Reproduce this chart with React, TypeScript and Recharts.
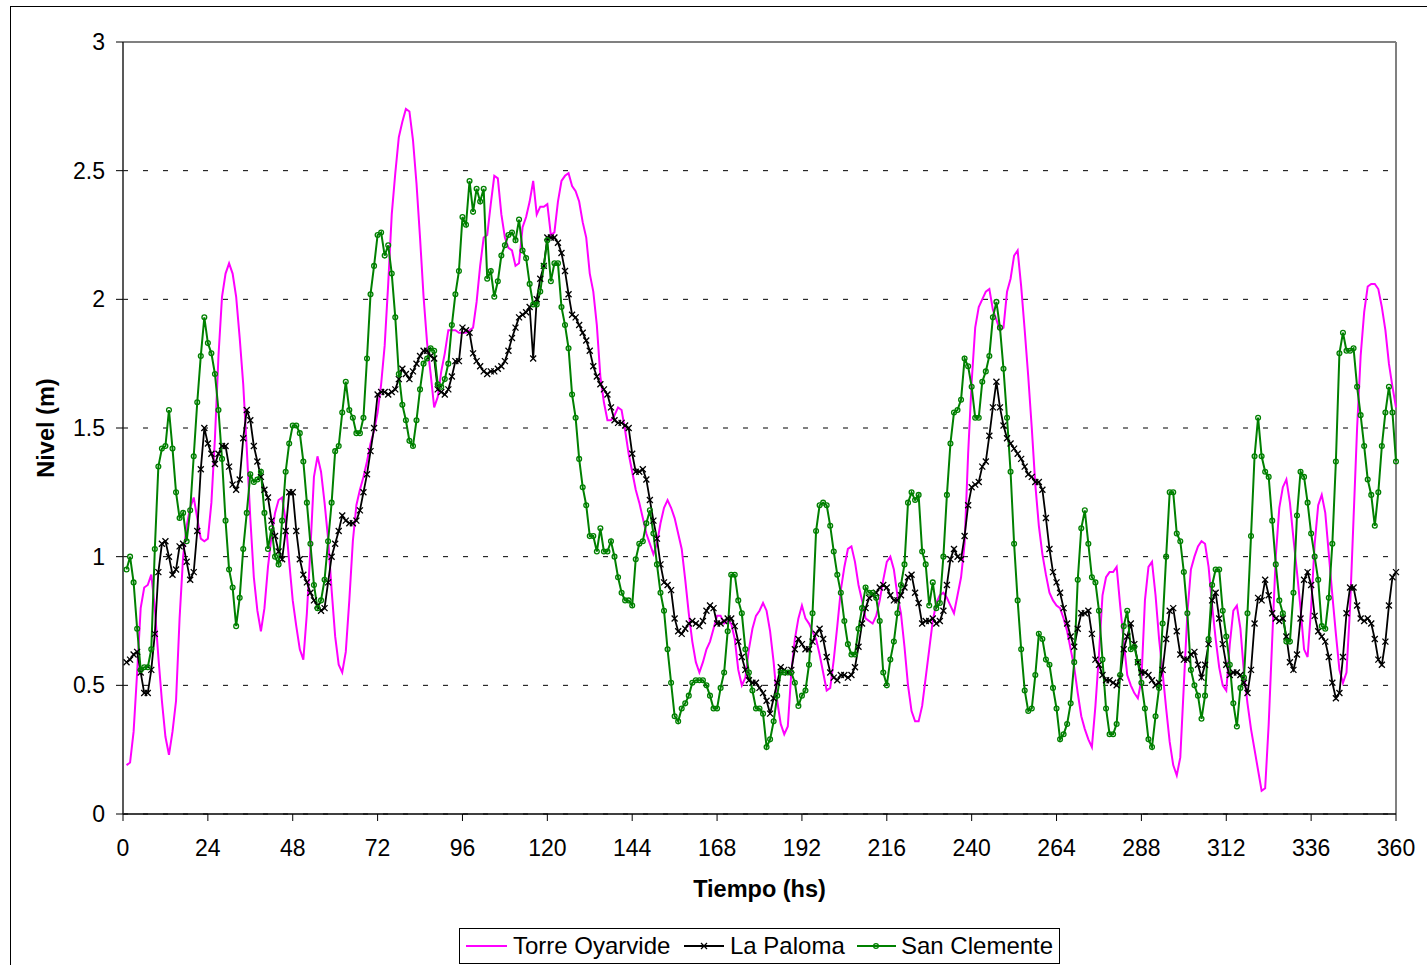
import { LineChart, Line, XAxis, YAxis, CartesianGrid, ReferenceLine } from 'recharts';

const hourTicks = [0, 24, 48, 72, 96, 120, 144, 168, 192, 216, 240, 264, 288, 312, 336, 360];
const levelTicks = [0, 0.5, 1, 1.5, 2, 2.5, 3];

// hourly levels, hour 1 to 360
const torreOyarvide = [
  0.19, 0.20, 0.32, 0.55, 0.80, 0.88, 0.89, 0.93, 0.80, 0.61, 0.44, 0.30,
  0.23, 0.32, 0.44, 0.76, 1.00, 1.12, 1.19, 1.23, 1.15, 1.07, 1.06, 1.07,
  1.21, 1.46, 1.78, 2.01, 2.10, 2.14, 2.10, 2.01, 1.85, 1.67, 1.42, 1.15,
  0.92, 0.79, 0.71, 0.80, 0.96, 1.08, 1.17, 1.22, 1.23, 1.14, 0.98, 0.83,
  0.73, 0.64, 0.60, 0.78, 1.03, 1.31, 1.39, 1.33, 1.21, 1.07, 0.87, 0.69,
  0.58, 0.55, 0.63, 0.83, 1.06, 1.20, 1.26, 1.31, 1.37, 1.44, 1.49, 1.56,
  1.67, 1.82, 2.06, 2.33, 2.49, 2.63, 2.69, 2.74, 2.73, 2.62, 2.45, 2.24,
  2.01, 1.83, 1.71, 1.58, 1.62, 1.72, 1.79, 1.88, 1.88, 1.88, 1.87, 1.87,
  1.87, 1.88, 1.89, 1.99, 2.13, 2.24, 2.25, 2.37, 2.48, 2.47, 2.33, 2.24,
  2.20, 2.19, 2.13, 2.14, 2.28, 2.32, 2.38, 2.46, 2.33, 2.36, 2.36, 2.37,
  2.25, 2.26, 2.38, 2.46, 2.48, 2.49, 2.44, 2.42, 2.38, 2.30, 2.24, 2.10,
  2.03, 1.90, 1.70, 1.60, 1.53, 1.53, 1.55, 1.58, 1.57, 1.49, 1.40, 1.33,
  1.26, 1.21, 1.15, 1.09, 1.05, 1.01, 1.05, 1.13, 1.19, 1.22, 1.19, 1.15,
  1.09, 1.03, 0.91, 0.78, 0.67, 0.59, 0.55, 0.59, 0.64, 0.67, 0.72, 0.77,
  0.77, 0.74, 0.75, 0.74, 0.68, 0.56, 0.50, 0.53, 0.64, 0.72, 0.77, 0.79,
  0.82, 0.79, 0.71, 0.59, 0.44, 0.35, 0.31, 0.34, 0.55, 0.68, 0.76, 0.81,
  0.76, 0.74, 0.71, 0.68, 0.62, 0.55, 0.48, 0.49, 0.60, 0.73, 0.87, 0.96,
  1.03, 1.04, 0.98, 0.89, 0.83, 0.76, 0.75, 0.74, 0.77, 0.83, 0.91, 0.98,
  1.00, 0.95, 0.85, 0.78, 0.65, 0.50, 0.40, 0.36, 0.36, 0.42, 0.53, 0.64,
  0.75, 0.82, 0.85, 0.86, 0.84, 0.81, 0.78, 0.85, 0.92, 1.05, 1.40, 1.68,
  1.89, 1.97, 2.00, 2.03, 2.04, 1.96, 1.92, 1.88, 1.89, 2.03, 2.08, 2.17,
  2.19, 2.05, 1.88, 1.70, 1.50, 1.28, 1.12, 1.01, 0.93, 0.86, 0.83, 0.81,
  0.80, 0.76, 0.71, 0.64, 0.57, 0.47, 0.38, 0.33, 0.29, 0.26, 0.42, 0.62,
  0.85, 0.92, 0.94, 0.94, 0.96, 0.81, 0.67, 0.54, 0.50, 0.47, 0.45, 0.52,
  0.83, 0.96, 0.98, 0.85, 0.68, 0.55, 0.41, 0.28, 0.19, 0.15, 0.22, 0.50,
  0.78, 0.95, 1.00, 1.04, 1.06, 1.05, 0.96, 0.81, 0.68, 0.57, 0.50, 0.48,
  0.66, 0.79, 0.81, 0.72, 0.55, 0.43, 0.33, 0.25, 0.17, 0.09, 0.10, 0.35,
  0.68, 1.00, 1.19, 1.27, 1.30, 1.21, 1.07, 0.94, 0.80, 0.64, 0.61, 0.80,
  1.05, 1.20, 1.24, 1.17, 1.01, 0.85, 0.70, 0.56, 0.51, 0.55, 0.80, 1.15,
  1.50, 1.78, 1.95, 2.05, 2.06, 2.06, 2.04, 1.97, 1.88, 1.75, 1.66, 1.58,
];

const laPaloma = [
  0.59, 0.60, 0.62, 0.63, 0.55, 0.47, 0.47, 0.56, 0.70, 0.94, 1.05, 1.06,
  1.00, 0.93, 0.95, 1.04, 1.05, 0.98, 0.91, 0.94, 1.10, 1.34, 1.50, 1.44,
  1.40, 1.36, 1.40, 1.43, 1.43, 1.35, 1.28, 1.26, 1.30, 1.46, 1.57, 1.53,
  1.43, 1.37, 1.31, 1.26, 1.23, 1.14, 1.08, 1.02, 0.99, 1.10, 1.25, 1.25,
  1.10, 0.99, 0.93, 0.90, 0.86, 0.83, 0.81, 0.79, 0.80, 0.90, 1.00, 1.05,
  1.10, 1.16, 1.14, 1.13, 1.13, 1.14, 1.18, 1.25, 1.32, 1.41, 1.50, 1.63,
  1.64, 1.64, 1.63, 1.64, 1.65, 1.69, 1.73, 1.71, 1.69, 1.72, 1.75, 1.78,
  1.80, 1.80, 1.78, 1.77, 1.65, 1.64, 1.63, 1.65, 1.70, 1.76, 1.76, 1.89,
  1.88, 1.87, 1.79, 1.76, 1.74, 1.72, 1.71, 1.72, 1.72, 1.73, 1.74, 1.76,
  1.80, 1.85, 1.89, 1.93, 1.94, 1.95, 1.97, 1.77, 2.00, 2.08, 2.13, 2.24,
  2.24, 2.24, 2.22, 2.18, 2.11, 2.02, 1.94, 1.93, 1.90, 1.87, 1.84, 1.80,
  1.74, 1.70, 1.67, 1.65, 1.63, 1.58, 1.53, 1.52, 1.52, 1.51, 1.50, 1.40,
  1.33, 1.33, 1.34, 1.30, 1.22, 1.14, 1.07, 0.97, 0.90, 0.89, 0.87, 0.76,
  0.71, 0.70, 0.72, 0.74, 0.75, 0.74, 0.73, 0.75, 0.79, 0.81, 0.80, 0.74,
  0.74, 0.75, 0.76, 0.76, 0.73, 0.67, 0.61, 0.56, 0.52, 0.51, 0.51, 0.49,
  0.47, 0.44, 0.39, 0.45, 0.51, 0.57, 0.56, 0.55, 0.56, 0.64, 0.68, 0.66,
  0.64, 0.64, 0.67, 0.70, 0.72, 0.68, 0.61, 0.55, 0.53, 0.52, 0.54, 0.54,
  0.53, 0.54, 0.57, 0.65, 0.74, 0.80, 0.84, 0.85, 0.86, 0.88, 0.89, 0.88,
  0.85, 0.83, 0.83, 0.85, 0.88, 0.92, 0.93, 0.86, 0.82, 0.74, 0.75, 0.75,
  0.76, 0.74, 0.75, 0.79, 0.89, 0.99, 1.03, 1.00, 0.99, 1.08, 1.20, 1.27,
  1.28, 1.29, 1.35, 1.37, 1.47, 1.58, 1.68, 1.58, 1.51, 1.46, 1.44, 1.42,
  1.40, 1.38, 1.35, 1.32, 1.31, 1.29, 1.29, 1.26, 1.15, 1.03, 0.94, 0.90,
  0.86, 0.80, 0.74, 0.69, 0.65, 0.72, 0.78, 0.78, 0.79, 0.70, 0.60, 0.58,
  0.54, 0.52, 0.52, 0.51, 0.50, 0.53, 0.64, 0.69, 0.74, 0.66, 0.59, 0.55,
  0.55, 0.54, 0.52, 0.50, 0.51, 0.56, 0.68, 0.79, 0.80, 0.71, 0.62, 0.60,
  0.60, 0.62, 0.63, 0.58, 0.53, 0.58, 0.66, 0.83, 0.86, 0.76, 0.66, 0.58,
  0.54, 0.55, 0.55, 0.54, 0.51, 0.47, 0.56, 0.74, 0.84, 0.83, 0.91, 0.85,
  0.78, 0.76, 0.75, 0.76, 0.69, 0.59, 0.56, 0.62, 0.76, 0.91, 0.94, 0.89,
  0.77, 0.71, 0.69, 0.67, 0.61, 0.51, 0.45, 0.47, 0.61, 0.78, 0.88, 0.88,
  0.81, 0.76, 0.75, 0.76, 0.74, 0.68, 0.60, 0.58, 0.67, 0.81, 0.92, 0.94,
];

const sanClemente = [
  0.95, 1.00, 0.90, 0.72, 0.56, 0.57, 0.57, 0.64, 1.03, 1.35, 1.42, 1.43,
  1.57, 1.42, 1.25, 1.15, 1.17, 1.06, 1.18, 1.39, 1.60, 1.78, 1.93, 1.83,
  1.79, 1.71, 1.57, 1.38, 1.14, 0.95, 0.88, 0.73, 0.84, 1.03, 1.17, 1.32,
  1.29, 1.30, 1.33, 1.17, 1.03, 1.11, 1.00, 0.97, 1.14, 1.33, 1.44, 1.51,
  1.51, 1.48, 1.37, 1.21, 1.05, 0.89, 0.80, 0.83, 0.91, 1.06, 1.21, 1.41,
  1.43, 1.56, 1.68, 1.57, 1.54, 1.48, 1.48, 1.54, 1.77, 2.02, 2.13, 2.25,
  2.26, 2.17, 2.21, 2.10, 1.93, 1.71, 1.59, 1.53, 1.45, 1.43, 1.53, 1.65,
  1.75, 1.77, 1.81, 1.80, 1.67, 1.66, 1.69, 1.75, 1.90, 2.02, 2.11, 2.32,
  2.29, 2.46, 2.34, 2.43, 2.38, 2.43, 2.08, 2.11, 2.01, 2.07, 2.17, 2.21,
  2.25, 2.26, 2.23, 2.31, 2.19, 2.16, 2.06, 1.98, 1.98, 2.03, 2.13, 2.23,
  2.07, 2.14, 2.14, 1.97, 1.90, 1.81, 1.63, 1.54, 1.38, 1.27, 1.20, 1.08,
  1.08, 1.02, 1.11, 1.02, 1.02, 1.06, 1.00, 0.92, 0.86, 0.83, 0.83, 0.81,
  0.99, 1.05, 1.06, 1.13, 1.18, 1.09, 0.97, 0.86, 0.79, 0.64, 0.51, 0.38,
  0.36, 0.41, 0.43, 0.46, 0.51, 0.52, 0.52, 0.52, 0.50, 0.46, 0.41, 0.41,
  0.49, 0.55, 0.71, 0.93, 0.93, 0.83, 0.78, 0.64, 0.55, 0.48, 0.41, 0.41,
  0.39, 0.26, 0.29, 0.36, 0.46, 0.55, 0.55, 0.55, 0.55, 0.51, 0.42, 0.46,
  0.48, 0.58, 0.78, 1.10, 1.20, 1.21, 1.20, 1.12, 1.02, 0.93, 0.86, 0.75,
  0.66, 0.62, 0.62, 0.72, 0.80, 0.88, 0.86, 0.86, 0.84, 0.75, 0.55, 0.50,
  0.60, 0.67, 0.78, 0.89, 0.97, 1.21, 1.25, 1.22, 1.24, 1.02, 0.97, 0.81,
  0.90, 0.80, 0.82, 1.00, 1.24, 1.44, 1.56, 1.57, 1.61, 1.77, 1.74, 1.66,
  1.54, 1.54, 1.68, 1.72, 1.78, 1.93, 1.99, 1.89, 1.73, 1.54, 1.33, 1.05,
  0.83, 0.64, 0.48, 0.40, 0.41, 0.54, 0.70, 0.68, 0.60, 0.58, 0.49, 0.41,
  0.29, 0.31, 0.35, 0.43, 0.59, 0.91, 1.11, 1.18, 1.05, 0.92, 0.90, 0.79,
  0.60, 0.41, 0.31, 0.31, 0.35, 0.54, 0.73, 0.79, 0.64, 0.65, 0.59, 0.51,
  0.41, 0.29, 0.26, 0.38, 0.49, 0.74, 1.00, 1.25, 1.25, 1.09, 1.06, 0.94,
  0.78, 0.56, 0.50, 0.46, 0.37, 0.46, 0.68, 0.89, 0.95, 0.95, 0.79, 0.69,
  0.58, 0.43, 0.34, 0.49, 0.53, 0.78, 1.08, 1.39, 1.54, 1.39, 1.33, 1.31,
  1.14, 0.97, 0.83, 0.78, 0.67, 0.67, 0.86, 1.16, 1.33, 1.31, 1.21, 1.09,
  1.00, 0.91, 0.73, 0.72, 0.84, 1.05, 1.37, 1.79, 1.87, 1.80, 1.80, 1.81,
  1.66, 1.55, 1.43, 1.30, 1.24, 1.12, 1.25, 1.43, 1.56, 1.66, 1.56, 1.37,
];

const data = torreOyarvide.map((v, i) => ({
  hora: i + 1,
  torre: v,
  paloma: laPaloma[i],
  clemente: sanClemente[i],
}));

const FONT = "'Liberation Sans', Arial, sans-serif";

function CrossDot(props: any) {
  const { cx, cy, index } = props;
  if (cx == null || cy == null) return <g key={index} />;
  const s = 3;
  return (
    <path
      key={index}
      d={`M${cx - s},${cy - s}L${cx + s},${cy + s}M${cx - s},${cy + s}L${cx + s},${cy - s}`}
      stroke="#000"
      strokeWidth={1.3}
      fill="none"
    />
  );
}

function RingDot(props: any) {
  const { cx, cy, index } = props;
  if (cx == null || cy == null) return <g key={index} />;
  return <circle key={index} cx={cx} cy={cy} r={2.4} stroke="#008000" strokeWidth={1.3} fill="none" />;
}

function ChartLegend() {
  return (
    <svg width={601} height={36} style={{ position: 'absolute', left: 459, top: 928 }}>
      <rect x={0.5} y={0.5} width={600} height={35} fill="#fff" stroke="#000" />
      <line x1={7} x2={48} y1={18} y2={18} stroke="#ff00ff" strokeWidth={2} />
      <text x={54} y={26} fontSize={24} fill="#000">Torre Oyarvide</text>
      <line x1={225} x2={265} y1={18} y2={18} stroke="#000" strokeWidth={2} />
      <CrossDot cx={245} cy={18} index="lp" />
      <text x={271} y={26} fontSize={24} fill="#000">La Paloma</text>
      <line x1={398} x2={437} y1={18} y2={18} stroke="#008000" strokeWidth={2} />
      <RingDot cx={417} cy={18} index="sc" />
      <text x={442} y={26} fontSize={24} fill="#000">San Clemente</text>
    </svg>
  );
}

export default function App() {
  return (
    <div
      style={{
        position: 'absolute',
        left: 0,
        top: 0,
        width: 1427,
        height: 965,
        overflow: 'hidden',
        background: '#fff',
        fontFamily: FONT,
      }}
    >
      <div
        style={{
          position: 'absolute',
          left: 10,
          top: 6,
          width: 1450,
          height: 1000,
          border: '1px solid #000',
        }}
      />
      <div style={{ position: 'absolute', left: 0, top: 0 }}>
        <LineChart
          width={1427}
          height={910}
          data={data}
          margin={{ top: 42, right: 31, bottom: 13, left: 13 }}
        >
          <CartesianGrid vertical={false} stroke="#000" strokeDasharray="5 15" />
          <ReferenceLine y={3} stroke="#808080" strokeWidth={2} />
          <ReferenceLine x={360} stroke="#808080" strokeWidth={2} />
          <XAxis
            dataKey="hora"
            type="number"
            domain={[0, 360]}
            ticks={hourTicks}
            interval={0}
            height={83}
            tickSize={7}
            tickMargin={19}
            axisLine={{ stroke: '#000', strokeWidth: 1.5 }}
            tickLine={{ stroke: '#000' }}
            tick={{ fontSize: 23, fill: '#000' }}
            label={{
              value: 'Tiempo (hs)',
              position: 'insideBottom',
              offset: 0,
              style: { fontSize: 23.5, fontWeight: 'bold', fill: '#000' },
            }}
          />
          <YAxis
            type="number"
            domain={[0, 3]}
            ticks={levelTicks}
            interval={0}
            width={110}
            tickSize={7}
            tickMargin={11}
            axisLine={{ stroke: '#222', strokeWidth: 1.5 }}
            tickLine={{ stroke: '#000' }}
            tick={{ fontSize: 23, fill: '#000' }}
            label={{
              value: 'Nivel (m)',
              angle: -90,
              position: 'insideLeft',
              offset: 33,
              style: { fontSize: 23.5, fontWeight: 'bold', fill: '#000', textAnchor: 'middle' },
            }}
          />
          <Line
            type="linear"
            dataKey="torre"
            name="Torre Oyarvide"
            stroke="#ff00ff"
            strokeWidth={2}
            dot={false}
            activeDot={false}
            isAnimationActive={false}
          />
          <Line
            type="linear"
            dataKey="paloma"
            name="La Paloma"
            stroke="#000"
            strokeWidth={1.8}
            dot={CrossDot}
            activeDot={false}
            isAnimationActive={false}
          />
          <Line
            type="linear"
            dataKey="clemente"
            name="San Clemente"
            stroke="#008000"
            strokeWidth={2}
            dot={RingDot}
            activeDot={false}
            isAnimationActive={false}
          />
        </LineChart>
      </div>
      <ChartLegend />
    </div>
  );
}
